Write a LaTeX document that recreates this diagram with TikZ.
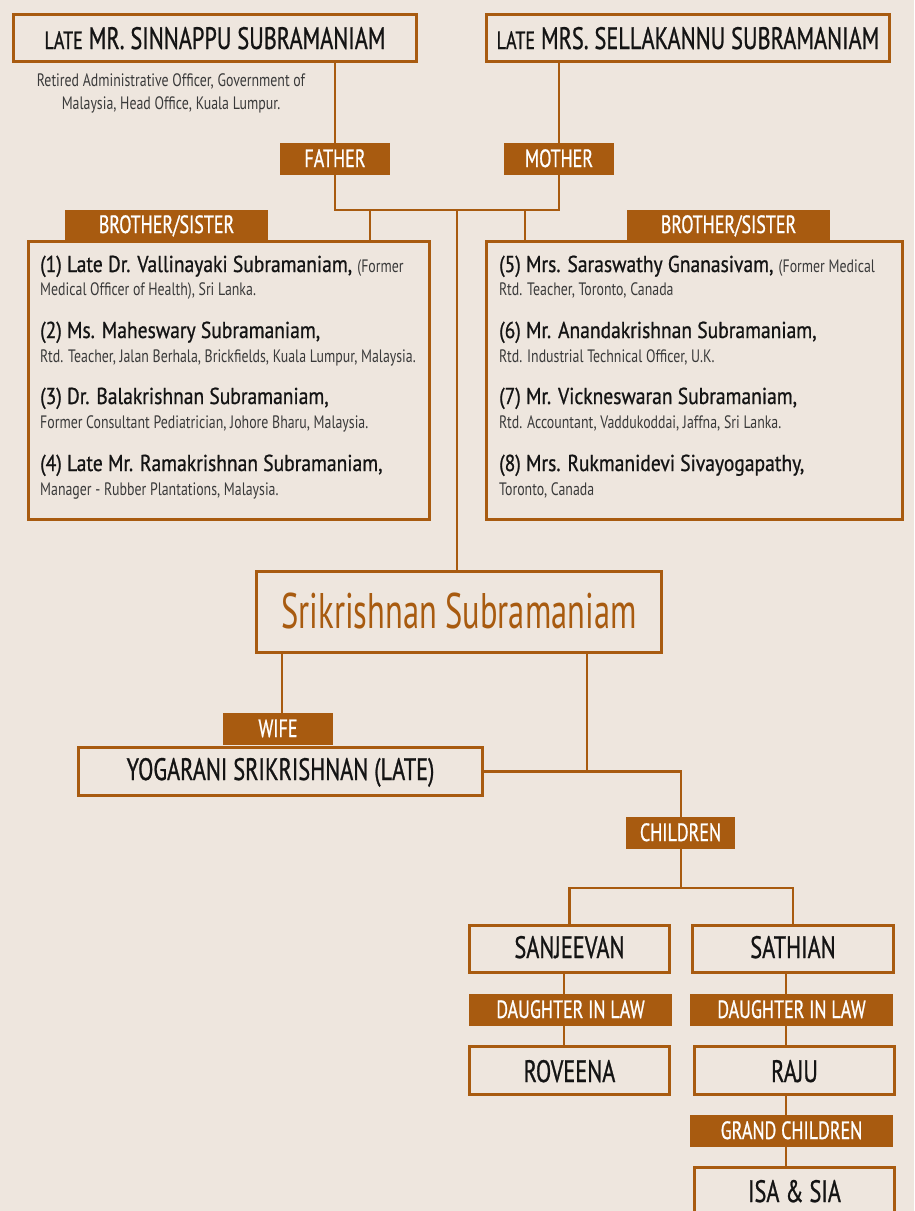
\documentclass[tikz,border=0pt]{standalone}
\usepackage{fontspec}
\setmainfont{PT Sans}[FakeStretch=0.72,FakeBold=0.8]
\newfontfamily\lcfont{PT Sans}[FakeStretch=0.65]
\newfontfamily\nmfont{PT Sans}[FakeStretch=0.85,FakeBold=0.8]
\newfontfamily\smfont{PT Sans}[FakeStretch=0.77]
\definecolor{bg}{HTML}{EEE6DE}
\definecolor{brn}{HTML}{A85B10}
\definecolor{ink}{HTML}{141414}
\definecolor{subc}{HTML}{3A3A3A}
\newcommand\fs[1]{\fontsize{#1}{#1}\selectfont}
\begin{document}
\begin{tikzpicture}[x=1pt,y=-1pt,
  box/.style={draw=brn,line width=2.8pt,fill=bg,inner sep=0pt,text=ink},
  lab/.style={fill=brn,text=white,inner sep=0pt,font=\fs{25},text height=16pt,text depth=0pt},
  conn/.style={draw=brn,line width=2.8pt},
  nm/.style={anchor=base west,inner sep=0pt,text=ink,font=\nmfont\fs{23}},
  sm/.style={anchor=base west,inner sep=0pt,text=subc,font=\smfont\fs{18}},
  caps/.style={font=\fs{31},text height=21pt,text depth=0pt}
]
\fill[bg] (0,0) rectangle (914,1211);
\useasboundingbox (0,0) rectangle (914,1211);
\clip (0,0) rectangle (914,1211);

% parents
\node[box,caps,text height=22pt,minimum width=403pt,minimum height=47pt] (fa) at (215,38) {{\fs{25}LATE} MR. SINNAPPU SUBRAMANIAM};
\node[box,caps,text height=22pt,minimum width=403pt,minimum height=47pt] (mo) at (688,38) {{\fs{25}LATE} MRS. SELLAKANNU SUBRAMANIAM};
\node[anchor=base,inner sep=0pt,text=subc,font=\smfont\fs{18}] (fad1) at (171,86) {Retired Administrative Officer, Government of};
\node[anchor=base,inner sep=0pt,text=subc,font=\smfont\fs{18}] (fad2) at (171,109) {Malaysia, Head Office, Kuala Lumpur.};

\node[lab,minimum width=110pt,minimum height=32pt] (flab) at (335,159) {FATHER};
\node[lab,minimum width=110pt,minimum height=32pt] (mlab) at (559,159) {MOTHER};

% sibling boxes
\node[box,minimum width=401pt,minimum height=278pt] (lbox) at (229,380.5) {};
\node[box,minimum width=416pt,minimum height=278pt] (rbox) at (694.5,380.5) {};
\node[lab,minimum width=203pt,minimum height=30pt] (bsl) at (166.5,225) {BROTHER/SISTER};
\node[lab,minimum width=203pt,minimum height=30pt] (bsr) at (728.5,225) {BROTHER/SISTER};

\node[nm] (s1) at (40,272) {(1) Late Dr. Vallinayaki Subramaniam, {\smfont\color{subc}\fs{18}(Former}};
\node[sm] (s1d) at (40,295) {Medical Officer of Health), Sri Lanka.};
\node[nm] (s2) at (40,338) {(2) Ms. Maheswary Subramaniam,};
\node[sm] (s2d) at (40,362) {Rtd. Teacher, Jalan Berhala, Brickfields, Kuala Lumpur, Malaysia.};
\node[nm] (s3) at (40,404) {(3) Dr. Balakrishnan Subramaniam,};
\node[sm] (s3d) at (40,428) {Former Consultant Pediatrician, Johore Bharu, Malaysia.};
\node[nm] (s4) at (40,471) {(4) Late Mr. Ramakrishnan Subramaniam,};
\node[sm] (s4d) at (40,495) {Manager - Rubber Plantations, Malaysia.};

\node[nm] (s5) at (499,272) {(5) Mrs. Saraswathy Gnanasivam, {\smfont\color{subc}\fs{18}(Former Medical}};
\node[sm] (s5d) at (499,295) {Rtd. Teacher, Toronto, Canada};
\node[nm] (s6) at (499,338) {(6) Mr. Anandakrishnan Subramaniam,};
\node[sm] (s6d) at (499,362) {Rtd. Industrial Technical Officer, U.K.};
\node[nm] (s7) at (499,404) {(7) Mr. Vickneswaran Subramaniam,};
\node[sm] (s7d) at (499,428) {Rtd. Accountant, Vaddukoddai, Jaffna, Sri Lanka.};
\node[nm] (s8) at (499,471) {(8) Mrs. Rukmanidevi Sivayogapathy,};
\node[sm] (s8d) at (499,495) {Toronto, Canada};

% self
\node[box,minimum width=405pt,minimum height=81pt,text=brn,font=\lcfont\fs{50},text height=33pt,text depth=0pt] (sri) at (459,612) {Srikrishnan Subramaniam};

\node[lab,minimum width=110pt,minimum height=32pt] (wlab) at (278,729) {WIFE};
\node[box,caps,text height=17pt,minimum width=404pt,minimum height=48pt] (yog) at (280.5,771.5) {YOGARANI SRIKRISHNAN (LATE)};
\node[lab,minimum width=109pt,minimum height=32pt] (clab) at (680.5,833) {CHILDREN};

\node[box,caps,text height=18pt,minimum width=200pt,minimum height=47pt] (san) at (569.5,949) {SANJEEVAN};
\node[box,caps,text height=18pt,minimum width=201pt,minimum height=47pt] (sat) at (793,949) {SATHIAN};
\node[lab,minimum width=203pt,minimum height=32pt] (dl1) at (570.5,1010) {DAUGHTER IN LAW};
\node[lab,minimum width=203pt,minimum height=32pt] (dl2) at (791.5,1010) {DAUGHTER IN LAW};
\node[box,caps,text height=23pt,minimum width=200pt,minimum height=48pt] (rov) at (569.5,1070.5) {ROVEENA};
\node[box,caps,text height=23pt,minimum width=200pt,minimum height=48pt] (raj) at (794.5,1070.5) {RAJU};
\node[lab,minimum width=203pt,minimum height=32pt] (gcl) at (791.5,1131) {GRAND CHILDREN};
\node[box,caps,minimum width=200pt,minimum height=48pt] (isa) at (794.5,1191.5) {ISA \& SIA};

% connector coordinates
\coordinate (fx) at (335,210);
\coordinate (mx) at (559,210);
\coordinate (lx) at (370,210);
\coordinate (rx) at (525,210);
\coordinate (cx) at (457,210);
\coordinate (wx) at (282,0);
\coordinate (kx) at (587,0);
\coordinate (chx) at (681,0);
\coordinate (cj) at (681,888);
\coordinate (ax) at (564,0);
\coordinate (bx) at (786,0);

\draw[conn] (fa.south -| fx) -- (flab.north -| fx);
\draw[conn] (mo.south -| mx) -- (mlab.north -| mx);
\draw[conn] (flab.south -| fx) -- (fx) -- (mx) -- (mlab.south -| mx);
\draw[conn] (lx) -- (lbox.north -| lx);
\draw[conn] (rx) -- (rbox.north -| rx);
\draw[conn] (cx) -- (sri.north -| cx);
\draw[conn] (sri.south -| wx) -- (wlab.north -| wx);
\draw[conn] (sri.south -| kx) -- (yog.east -| kx);
\draw[conn] (yog.east) -| (clab.north -| chx);
\draw[conn] (clab.south -| chx) -- (cj);
\draw[conn] (san.north) |- (cj) -| (sat.north);
\draw[conn] (san.south -| ax) -- (dl1.north -| ax);
\draw[conn] (dl1.south -| ax) -- (rov.north -| ax);
\draw[conn] (sat.south -| bx) -- (dl2.north -| bx);
\draw[conn] (dl2.south -| bx) -- (raj.north -| bx);
\draw[conn] (raj.south -| bx) -- (gcl.north -| bx);
\draw[conn] (gcl.south -| bx) -- (isa.north -| bx);
\end{tikzpicture}
\end{document}
